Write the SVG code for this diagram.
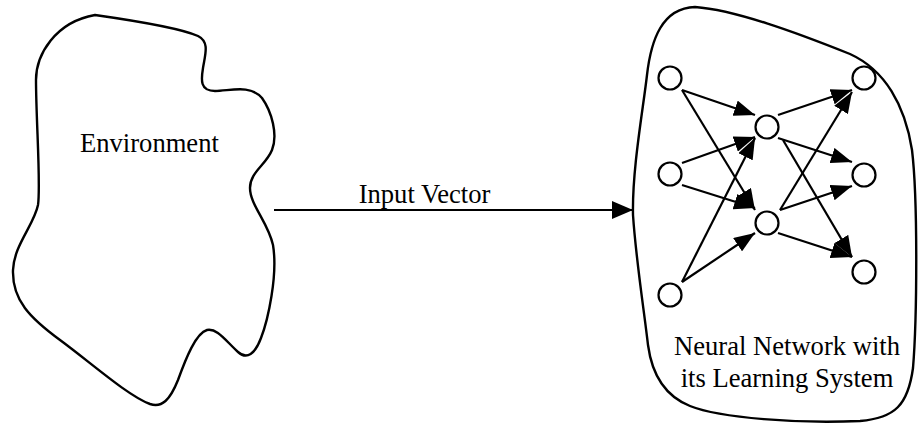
<svg xmlns="http://www.w3.org/2000/svg" width="918" height="427" viewBox="0 0 918 427">
  <style>
    .blob { fill: none; stroke: #000; stroke-width: 2.4; stroke-linejoin: round; }
    .label { font-family: "Liberation Serif", "Times New Roman", serif; font-size: 26.6px; fill: #000; }
    .edge { stroke: #000; stroke-width: 2.2; fill: none; marker-end: url(#head); }
    .neuron { fill: #fff; stroke: #000; stroke-width: 2.2; }
  </style>
  <defs>
    <marker id="head" viewBox="0 -8 21 16" markerWidth="21" markerHeight="16" refX="21" refY="0" orient="auto" markerUnits="userSpaceOnUse">
      <path d="M0,-8 L21,0 L0,8 Z" fill="#000"/>
    </marker>
    <marker id="bighead" viewBox="0 -9 21 18" markerWidth="21" markerHeight="18" refX="21" refY="0" orient="auto" markerUnits="userSpaceOnUse">
      <path d="M0,-9 L21,0 L0,9 Z" fill="#000"/>
    </marker>
  </defs>
  <rect width="918" height="427" fill="#fff"/>

  <!-- environment: irregular outline with label -->
  <g id="environment">
    <path class="blob" d="M95,15 C130,20 180,28 198,36 C210,42 205,55 203,68 C201,80 200,91 215,91 C230,91 250,84 262,98 C272,112 278,135 272,150 C266,165 250,172 250,188 C250,205 268,222 273,245 C278,275 268,320 261,338 C255,354 247,360 238,352 C225,340 217,328 207,330 C196,333 186,358 178,380 C170,400 162,408 150,404 C128,396 90,362 60,340 C30,318 12,300 13,270 C14,245 34,225 38,205 C41,185 36,120 36,80 C36,55 55,22 95,15 Z"/>
    <text class="label" x="80" y="152">Environment</text>
  </g>

  <!-- neural network container -->
  <g id="network">
    <path class="blob" d="M695,7 C735,10 795,32 850,54 C885,70 905,105 912,150 C918,200 917,320 913,368 C908,405 895,418 860,421 C800,424 720,418 690,406 C665,396 652,375 648,345 C644,310 636,260 633,215 C632,170 643,110 647,75 C651,40 662,8 695,7 Z"/>
    <text class="label" x="787" y="355" text-anchor="middle">Neural Network with</text>
    <text class="label" x="787" y="387" text-anchor="middle">its Learning System</text>
  </g>

  <!-- connectors -->
  <g id="connectors">
    <line x1="274" y1="210" x2="633" y2="210" stroke="#000" stroke-width="2.2" marker-end="url(#bighead)"/>
    <text class="label" x="424.5" y="203" text-anchor="middle">Input Vector</text>
    <!-- input layer to hidden layer -->
    <line class="edge" x1="682" y1="90" x2="755" y2="115"/>
    <line class="edge" x1="682" y1="90" x2="755" y2="210"/>
    <line class="edge" x1="682" y1="163" x2="755" y2="137"/>
    <line class="edge" x1="682" y1="185" x2="755" y2="208"/>
    <line class="edge" x1="682" y1="282" x2="755" y2="138"/>
    <line class="edge" x1="682" y1="282" x2="755" y2="233"/>
    <!-- hidden layer to output layer -->
    <line class="edge" x1="778" y1="115" x2="852" y2="90"/>
    <line class="edge" x1="778" y1="138" x2="852" y2="162"/>
    <line class="edge" x1="783" y1="140" x2="852" y2="257"/>
    <line class="edge" x1="780" y1="210" x2="852" y2="92"/>
    <line class="edge" x1="780" y1="210" x2="852" y2="186"/>
    <line class="edge" x1="778" y1="233" x2="852" y2="257"/>
  </g>

  <!-- neurons -->
  <g id="input-1"><circle class="neuron" cx="670" cy="78" r="11.5"/></g>
  <g id="input-2"><circle class="neuron" cx="670" cy="174" r="11.5"/></g>
  <g id="input-3"><circle class="neuron" cx="670" cy="295" r="11.5"/></g>
  <g id="hidden-1"><circle class="neuron" cx="767" cy="127" r="11.5"/></g>
  <g id="hidden-2"><circle class="neuron" cx="767" cy="223" r="11.5"/></g>
  <g id="output-1"><circle class="neuron" cx="864" cy="78" r="11.5"/></g>
  <g id="output-2"><circle class="neuron" cx="864" cy="175" r="11.5"/></g>
  <g id="output-3"><circle class="neuron" cx="864" cy="272" r="11.5"/></g>
</svg>
